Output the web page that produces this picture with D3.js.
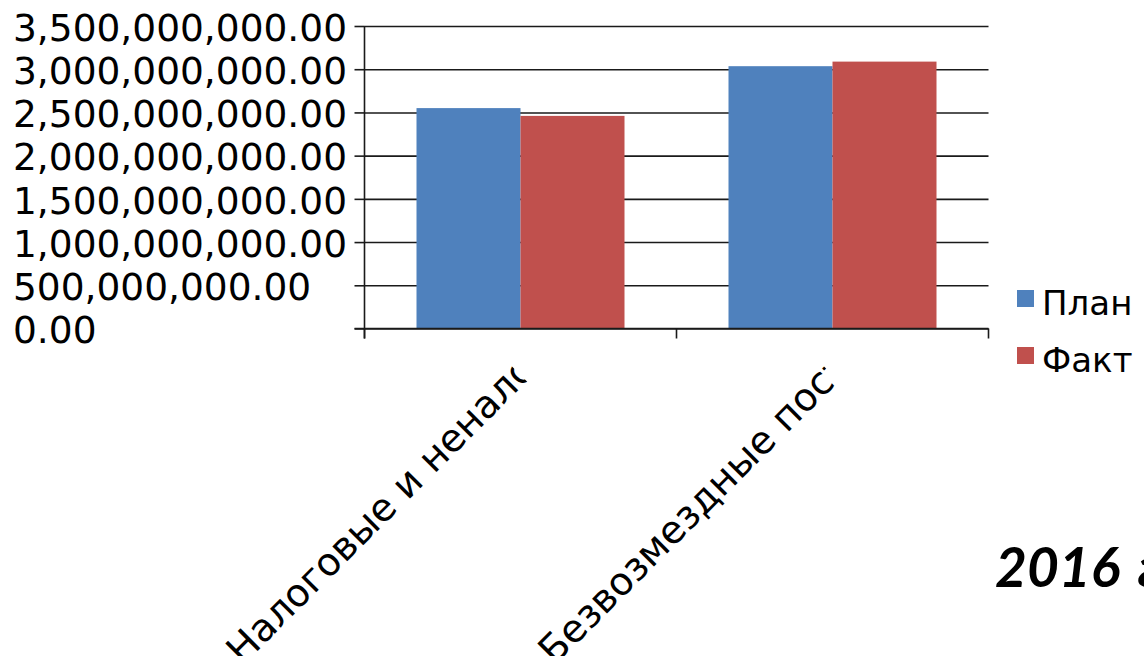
<!DOCTYPE html>
<html>
<head>
<meta charset="utf-8">
<script src="https://cdn.jsdelivr.net/npm/d3@7"></script>
<style>
	body { margin: 0; background: #fff; overflow: hidden; }
	svg { display: block; }
	text { font-family: "DejaVu Sans", sans-serif; fill: #000; }
</style>
</head>
<body>
<div id="chart"></div>
<script>
let categories = ["Налоговые и неналоговые доходы", "Безвозмездные поступления"]
let series = ["План", "Факт"]
let planValues = [2550000000, 3035000000]
let factValues = [2460000000, 3088000000]
let yTicks = [0, 500000000, 1000000000, 1500000000, 2000000000, 2500000000, 3000000000, 3500000000]
let colors = ["#4F81BD", "#C0504D"]
let title = "2016 г."

let dims = {width: 1144, height: 656, plot: {left: 364.5, right: 988.5, top: 26, bottom: 328.5}}
let labelFont = 38.5
let labelMax = 10.45 * labelFont	// labels get cut at a fixed length, like Excel does

let svg = d3.select("#chart").append("svg")
	.attr("width", dims.width)
	.attr("height", dims.height)

let x = d3.scaleBand().domain(categories).range([dims.plot.left, dims.plot.right]).padding(0)
let xs = d3.scaleBand().domain(series).range([0, x.bandwidth()]).paddingInner(0).paddingOuter(0.5)
let y = d3.scaleLinear().domain([0, 3500000000]).range([dims.plot.bottom, dims.plot.top])
let fmt = d3.format(",.2f")

// gridlines
svg.append("g")
	.attr("transform", `translate(${dims.plot.left},0)`)
	.call(d3.axisLeft(y).tickValues(yTicks).tickSize(-(dims.plot.right - dims.plot.left)).tickFormat(""))
	.call(g => g.select(".domain").remove())
	.call(g => g.selectAll("line").attr("stroke", "#1a1a1a").attr("stroke-width", 1.6))

// bars
let rows = series.map((s, i) => ({name: s, values: i === 0 ? planValues : factValues, color: colors[i]}))
rows.forEach(r => {
	svg.append("g").selectAll("rect")
		.data(categories)
		.enter()
			.append("rect")
			.attr("x", c => x(c) + xs(r.name))
			.attr("width", xs.bandwidth())
			.attr("y", (c, i) => y(r.values[i]))
			.attr("height", (c, i) => y(0) - y(r.values[i]))
			.attr("fill", r.color)
})

// y axis with left-aligned labels
let yAxis = svg.append("g")
	.attr("transform", `translate(${dims.plot.left},0)`)
	.call(d3.axisLeft(y).tickValues(yTicks).tickSize(10).tickFormat(fmt))
yAxis.select(".domain").attr("d", `M0,${dims.plot.top}V${dims.plot.bottom + 10}`).attr("stroke", "#1a1a1a").attr("stroke-width", 1.6)
yAxis.selectAll("line").attr("stroke", "#1a1a1a").attr("stroke-width", 1.6)
yAxis.selectAll("text")
	.attr("text-anchor", "start")
	.attr("x", 13 - dims.plot.left)
	.attr("dy", "0.38em")
	.style("font-family", "DejaVu Sans")
	.style("font-size", "37.5px")
	.attr("fill", "#000")

// x axis line and category boundary ticks
svg.append("line")
	.attr("x1", dims.plot.left - 10).attr("x2", dims.plot.right)
	.attr("y1", y(0)).attr("y2", y(0))
	.attr("stroke", "#1a1a1a").attr("stroke-width", 1.6)
svg.append("g").selectAll("line")
	.data(categories.map(c => x(c)).concat([x.range()[1]]))
	.enter()
		.append("line")
		.attr("x1", d => d).attr("x2", d => d)
		.attr("y1", y(0)).attr("y2", y(0) + 10)
		.attr("stroke", "#1a1a1a").attr("stroke-width", 1.6)

// rotated category labels, truncated along their own baseline
svg.append("clipPath").attr("id", "labelClip")
	.attr("clipPathUnits", "userSpaceOnUse")
	.append("rect").attr("x", -30).attr("y", -60).attr("width", labelMax + 30).attr("height", 100)
svg.append("g")
	.selectAll("text")
	.data(categories)
	.enter()
		.append("text")
		.attr("transform", c => `translate(${x(c) + x.bandwidth() / 2 - 278},666) rotate(-45)`)
		.attr("text-anchor", "start")
		.attr("clip-path", "url(#labelClip)")
		.style("font-size", labelFont + "px")
		.text(c => c)

// legend
let legend = svg.append("g").selectAll("g")
	.data(rows)
	.enter()
		.append("g")
		.attr("transform", (d, i) => `translate(1017,${290 + i * 57})`)
legend.append("rect").attr("width", 17).attr("height", 17).attr("fill", d => d.color)
legend.append("text").attr("x", 25).attr("y", 25).style("font-size", "34px").text(d => d.name)

// slide title fragment
svg.append("text")
	.attr("x", 995).attr("y", 587)
	.style("font-family", "Lato, sans-serif")
	.style("font-weight", "bold")
	.style("font-style", "italic")
	.style("font-size", "55px")
	.style("word-spacing", "6px")
	.text(title)
</script>
</body>
</html>
